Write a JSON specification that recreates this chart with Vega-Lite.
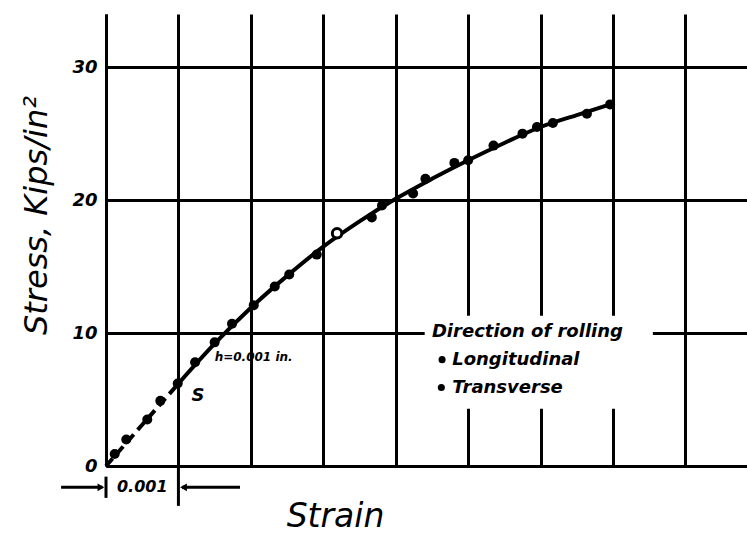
{
  "$schema": "https://vega.github.io/schema/vega-lite/v6.json",
  "width": 641,
  "height": 452,
  "autosize": {"type": "none"},
  "padding": {"left": 106, "top": 14, "right": 0, "bottom": 76},
  "background": "white",
  "config": {"view": {"stroke": null}},
  "datasets": {
    "curve": [
      {"strain": 0, "stress": 0, "part": "dash"},
      {"strain": 0.5, "stress": 3.1, "part": "dash"},
      {"strain": 1.0, "stress": 6.2, "part": "dash"},
      {"strain": 1.0, "stress": 6.2, "part": "solid"},
      {"strain": 1.5, "stress": 9.2, "part": "solid"},
      {"strain": 2.0, "stress": 11.9, "part": "solid"},
      {"strain": 2.5, "stress": 14.3, "part": "solid"},
      {"strain": 3.0, "stress": 16.5, "part": "solid"},
      {"strain": 3.5, "stress": 18.4, "part": "solid"},
      {"strain": 4.0, "stress": 20.1, "part": "solid"},
      {"strain": 4.5, "stress": 21.6, "part": "solid"},
      {"strain": 5.0, "stress": 23.0, "part": "solid"},
      {"strain": 5.5, "stress": 24.3, "part": "solid"},
      {"strain": 6.0, "stress": 25.5, "part": "solid"},
      {"strain": 6.5, "stress": 26.4, "part": "solid"},
      {"strain": 6.96, "stress": 27.2, "part": "solid"}
    ],
    "points": [
      {"strain": 0.12, "stress": 0.9, "kind": "filled"},
      {"strain": 0.28, "stress": 2.0, "kind": "filled"},
      {"strain": 0.57, "stress": 3.5, "kind": "filled"},
      {"strain": 0.75, "stress": 4.9, "kind": "filled"},
      {"strain": 0.99, "stress": 6.2, "kind": "filled"},
      {"strain": 1.23, "stress": 7.8, "kind": "filled"},
      {"strain": 1.5, "stress": 9.3, "kind": "filled"},
      {"strain": 1.74, "stress": 10.7, "kind": "filled"},
      {"strain": 2.04, "stress": 12.1, "kind": "filled"},
      {"strain": 2.33, "stress": 13.5, "kind": "filled"},
      {"strain": 2.53, "stress": 14.4, "kind": "filled"},
      {"strain": 2.91, "stress": 15.9, "kind": "filled"},
      {"strain": 3.19, "stress": 17.5, "kind": "open"},
      {"strain": 3.67, "stress": 18.7, "kind": "filled"},
      {"strain": 3.81, "stress": 19.6, "kind": "filled"},
      {"strain": 4.24, "stress": 20.5, "kind": "filled"},
      {"strain": 4.41, "stress": 21.6, "kind": "filled"},
      {"strain": 4.81, "stress": 22.8, "kind": "filled"},
      {"strain": 5.0, "stress": 23.0, "kind": "filled"},
      {"strain": 5.35, "stress": 24.1, "kind": "filled"},
      {"strain": 5.75, "stress": 25.0, "kind": "filled"},
      {"strain": 5.95, "stress": 25.5, "kind": "filled"},
      {"strain": 6.17, "stress": 25.8, "kind": "filled"},
      {"strain": 6.64, "stress": 26.5, "kind": "filled"},
      {"strain": 6.96, "stress": 27.2, "kind": "filled"}
    ],
    "rules": [
      {"x": -0.62, "x2": -0.05, "y": -1.6, "y2": -1.6},
      {"x": 0, "x2": 0, "y": -0.8, "y2": -2.4},
      {"x": 1, "x2": 1, "y": 0, "y2": -3.0},
      {"x": 1.05, "x2": 1.85, "y": -1.6, "y2": -1.6}
    ],
    "arrows": [
      {"x": -0.07, "y": -1.6, "dir": "right"},
      {"x": 1.07, "y": -1.6, "dir": "left"}
    ],
    "legendbox": [
      {"x": 4.4, "x2": 7.55, "y": 4.3, "y2": 11.3}
    ],
    "notes": [
      {"x": 0.5, "y": -1.6, "label": "0.001", "size": "s"},
      {"x": 1.27, "y": 5.3, "label": "S", "size": "m"},
      {"x": 1.5, "y": 8.2, "label": "h=0.001 in.", "size": "xs"}
    ],
    "legendtext": [
      {"x": 4.5, "y": 10.1, "label": "Direction of rolling"},
      {"x": 4.78, "y": 8.0, "label": "Longitudinal"},
      {"x": 4.78, "y": 5.9, "label": "Transverse"}
    ],
    "legenddots": [
      {"x": 4.64, "y": 8.0},
      {"x": 4.63, "y": 5.9}
    ]
  },
  "layer": [
    {
      "data": {"name": "curve"},
      "transform": [{"filter": "datum.part === 'solid'"}],
      "mark": {"type": "line", "color": "black", "strokeWidth": 4, "interpolate": "monotone"},
      "encoding": {
        "x": {
          "field": "strain", "type": "quantitative",
          "scale": {"domain": [0, 8.85], "nice": false, "zero": false},
          "axis": {
            "values": [0, 1, 2, 3, 4, 5, 6, 7, 8],
            "labels": false, "ticks": false,
            "grid": true, "gridColor": "black", "gridWidth": 3, "gridOpacity": 1,
            "domain": true, "domainColor": "black", "domainWidth": 3,
            "title": "Strain",
            "titleFont": "DejaVu Sans", "titleFontSize": 33, "titleFontStyle": "italic", "titleFontWeight": "normal",
            "titleColor": "black",
            "titleX": 229, "titleY": 50, "titleAlign": "center", "titleBaseline": "middle"
          }
        },
        "y": {
          "field": "stress", "type": "quantitative",
          "scale": {"domain": [0, 34], "nice": false, "zero": false},
          "axis": {
            "values": [0, 10, 20, 30],
            "ticks": false,
            "labelPadding": 9,
            "labelFont": "DejaVu Sans", "labelFontSize": 18, "labelFontStyle": "italic", "labelFontWeight": "bold",
            "labelColor": "black",
            "grid": true, "gridColor": "black", "gridWidth": 3, "gridOpacity": 1,
            "domain": true, "domainColor": "black", "domainWidth": 3,
            "title": "Stress, Kips/in²",
            "titleFont": "DejaVu Sans", "titleFontSize": 32, "titleFontStyle": "italic", "titleFontWeight": "normal",
            "titleColor": "black",
            "titleAngle": 270, "titleX": -70, "titleY": 201, "titleAlign": "center", "titleBaseline": "middle"
          }
        }
      }
    },
    {
      "data": {"name": "curve"},
      "transform": [{"filter": "datum.part === 'dash'"}],
      "mark": {"type": "line", "color": "black", "strokeWidth": 4, "strokeDash": [10, 6]},
      "encoding": {
        "x": {"field": "strain", "type": "quantitative"},
        "y": {"field": "stress", "type": "quantitative"}
      }
    },
    {
      "data": {"name": "points"},
      "transform": [{"filter": "datum.kind === 'filled'"}],
      "mark": {"type": "point", "shape": "circle", "filled": true, "color": "black", "opacity": 1, "size": 100},
      "encoding": {
        "x": {"field": "strain", "type": "quantitative"},
        "y": {"field": "stress", "type": "quantitative"}
      }
    },
    {
      "data": {"name": "points"},
      "transform": [{"filter": "datum.kind === 'open'"}],
      "mark": {"type": "point", "shape": "circle", "filled": true, "fill": "white", "stroke": "black", "strokeWidth": 3, "opacity": 1, "size": 90},
      "encoding": {
        "x": {"field": "strain", "type": "quantitative"},
        "y": {"field": "stress", "type": "quantitative"}
      }
    },
    {
      "data": {"name": "legendbox"},
      "mark": {"type": "rect", "color": "white", "opacity": 1},
      "encoding": {
        "x": {"field": "x", "type": "quantitative"},
        "x2": {"field": "x2"},
        "y": {"field": "y", "type": "quantitative"},
        "y2": {"field": "y2"}
      }
    },
    {
      "data": {"name": "legendtext"},
      "mark": {"type": "text", "align": "left", "baseline": "middle", "font": "DejaVu Sans", "fontSize": 18, "fontStyle": "italic", "fontWeight": "bold", "color": "black"},
      "encoding": {
        "x": {"field": "x", "type": "quantitative"},
        "y": {"field": "y", "type": "quantitative"},
        "text": {"field": "label"}
      }
    },
    {
      "data": {"name": "legenddots"},
      "mark": {"type": "point", "shape": "circle", "filled": true, "color": "black", "opacity": 1, "size": 50},
      "encoding": {
        "x": {"field": "x", "type": "quantitative"},
        "y": {"field": "y", "type": "quantitative"}
      }
    },
    {
      "data": {"name": "rules"},
      "mark": {"type": "rule", "color": "black", "strokeWidth": 3},
      "encoding": {
        "x": {"field": "x", "type": "quantitative"},
        "x2": {"field": "x2"},
        "y": {"field": "y", "type": "quantitative"},
        "y2": {"field": "y2"}
      }
    },
    {
      "data": {"name": "arrows"},
      "mark": {"type": "point", "filled": true, "color": "black", "opacity": 1, "size": 60},
      "encoding": {
        "x": {"field": "x", "type": "quantitative"},
        "y": {"field": "y", "type": "quantitative"},
        "shape": {"field": "dir", "type": "nominal", "scale": {"domain": ["right", "left"], "range": ["triangle-right", "triangle-left"]}, "legend": null}
      }
    },
    {
      "data": {"name": "notes"},
      "transform": [{"filter": "datum.size === 's'"}],
      "mark": {"type": "text", "align": "center", "baseline": "middle", "font": "DejaVu Sans", "fontSize": 16, "fontStyle": "italic", "fontWeight": "bold", "color": "black"},
      "encoding": {
        "x": {"field": "x", "type": "quantitative"},
        "y": {"field": "y", "type": "quantitative"},
        "text": {"field": "label"}
      }
    },
    {
      "data": {"name": "notes"},
      "transform": [{"filter": "datum.size === 'm'"}],
      "mark": {"type": "text", "align": "center", "baseline": "middle", "font": "DejaVu Sans", "fontSize": 18, "fontStyle": "italic", "fontWeight": "bold", "color": "black"},
      "encoding": {
        "x": {"field": "x", "type": "quantitative"},
        "y": {"field": "y", "type": "quantitative"},
        "text": {"field": "label"}
      }
    },
    {
      "data": {"name": "notes"},
      "transform": [{"filter": "datum.size === 'xs'"}],
      "mark": {"type": "text", "align": "left", "baseline": "middle", "font": "DejaVu Sans", "fontSize": 12, "fontStyle": "italic", "fontWeight": "bold", "color": "black"},
      "encoding": {
        "x": {"field": "x", "type": "quantitative"},
        "y": {"field": "y", "type": "quantitative"},
        "text": {"field": "label"}
      }
    }
  ]
}
